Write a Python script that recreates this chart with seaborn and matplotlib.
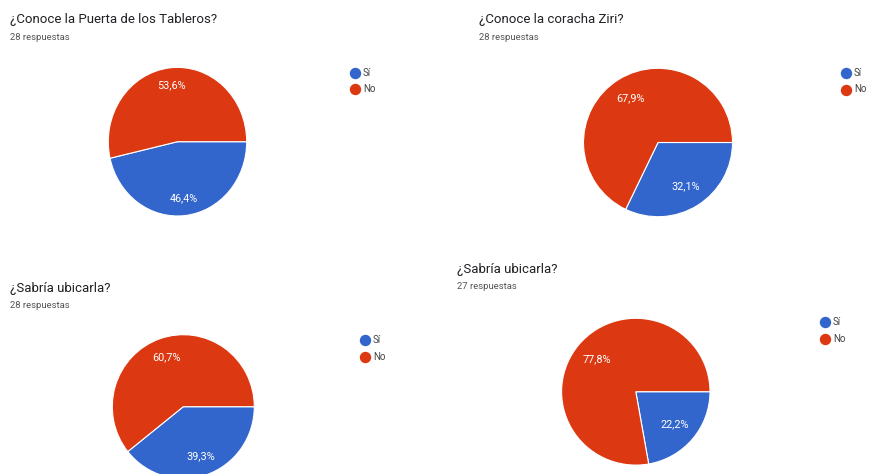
import matplotlib
matplotlib.use("Agg")
import matplotlib.pyplot as plt
from matplotlib.lines import Line2D
import seaborn as sns

sns.set_theme(style="white")
plt.rcParams['font.family'] = ['Roboto', 'DejaVu Sans']

# ---- data ----
titles = ["¿Conoce la Puerta de los Tableros?", "¿Conoce la coracha Ziri?",
          "¿Sabría ubicarla?", "¿Sabría ubicarla?"]
subtitles = ["28 respuestas", "28 respuestas", "28 respuestas", "27 respuestas"]
categories = ["Sí", "No"]
si_counts = [13, 9, 11, 6]
no_counts = [15, 19, 17, 21]
colors = ["#3366CC", "#DC3912"]

W, H = 869, 474
fig = plt.figure(figsize=(W / 100, H / 100), dpi=100)
fig.patch.set_facecolor("white")

def fx(x):
    return x / W

def fy(y):
    return 1 - y / H

# layout (pixels): pie centre, radii, title pos, legend pos, pct distance
panels = [
    dict(c=(177.5, 141.7), r=(69.2, 74.3), t=(10, 20), s=(10, 37), lg=(355, 72.7), pd=0.76),
    dict(c=(658, 142.5), r=(74.5, 74.2), t=(479, 20), s=(479, 37), lg=(846, 73), pd=0.70),
    dict(c=(183.3, 406.7), r=(71, 72), t=(10, 288.5), s=(10, 305), lg=(365, 340), pd=0.73),
    dict(c=(635.8, 391.7), r=(74.2, 73.4), t=(457, 269.5), s=(457, 286.5), lg=(825, 322.3), pd=0.69),
]

def fmt(p):
    return f"{p:.1f}%".replace(".", ",")

for i, p in enumerate(panels):
    cx, cy = p["c"]
    rx, ry = p["r"]
    ax = fig.add_axes([fx(cx - rx), fy(cy + ry), 2 * rx / W, 2 * ry / H])
    vals = [si_counts[i], no_counts[i]]
    wedges, texts, autotexts = ax.pie(
        vals, colors=colors, startangle=0, counterclock=False,
        autopct=fmt, pctdistance=p["pd"],
        wedgeprops=dict(edgecolor="white", linewidth=0.8),
        textprops=dict(color="white", fontsize=7.8))
    ax.set_aspect("auto")
    ax.set_xlim(-1, 1)
    ax.set_ylim(-1, 1)
    ax.axis("off")

    tx, ty = p["t"]
    fig.text(fx(tx), fy(ty), titles[i], fontsize=9.5, color="#202124",
             ha="left", va="center")
    sx, sy = p["s"]
    fig.text(fx(sx), fy(sy), subtitles[i], fontsize=6.8, color="#555555",
             ha="left", va="center")

    lx, ly = p["lg"]
    for k, cat in enumerate(categories):
        yy = ly + k * 16.5
        fig.add_artist(Line2D([fx(lx)], [fy(yy)], marker="o", markersize=7.2,
                              color=colors[k], linestyle="none",
                              transform=fig.transFigure))
        fig.text(fx(lx + 8), fy(yy), cat, fontsize=7, color="#444444",
                 ha="left", va="center")

fig.savefig("out.png", dpi=100, facecolor="white")
